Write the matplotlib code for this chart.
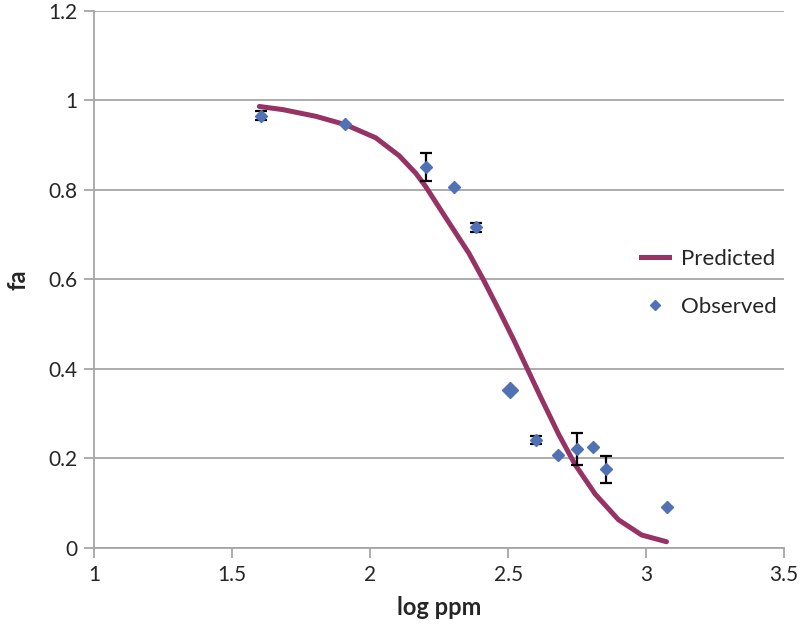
import matplotlib
matplotlib.use("Agg")
import matplotlib.pyplot as plt
from matplotlib.lines import Line2D

# Observed data
obs_x = [1.604, 1.909, 2.203, 2.303, 2.382, 2.508, 2.601, 2.680, 2.749, 2.806, 2.855, 3.077]
obs_y = [0.965, 0.947, 0.851, 0.806, 0.716, 0.353, 0.242, 0.208, 0.221, 0.226, 0.176, 0.092]
obs_err = [0.010, 0.0, 0.032, 0.0, 0.010, 0.0, 0.009, 0.0, 0.036, 0.0, 0.030, 0.0]

# Predicted curve
pred_x = [1.598, 1.683, 1.803, 1.912, 2.020, 2.105, 2.165, 2.200, 2.286, 2.358, 2.412,
          2.466, 2.520, 2.568, 2.617, 2.683, 2.743, 2.816, 2.900, 2.984, 3.074]
pred_y = [0.986, 0.979, 0.964, 0.945, 0.916, 0.876, 0.837, 0.808, 0.726, 0.658, 0.597,
          0.532, 0.465, 0.402, 0.338, 0.254, 0.186, 0.120, 0.063, 0.029, 0.014]

x_ticks = [1, 1.5, 2, 2.5, 3, 3.5]
x_tick_labels = ["1", "1.5", "2", "2.5", "3", "3.5"]
y_ticks = [0, 0.2, 0.4, 0.6, 0.8, 1.0, 1.2]
y_tick_labels = ["0", "0.2", "0.4", "0.6", "0.8", "1", "1.2"]

plt.rcParams['font.family'] = ['Lato', 'DejaVu Sans']

fig = plt.figure(figsize=(8, 6.26), dpi=100)
ax = fig.add_axes([0.118, 0.1246, 0.862, 0.8584])

curve_color = "#963364"
marker_color = "#5072B4"
grid_color = "#A6A6A6"
text_color = "#262626"

ax.plot(pred_x, pred_y, color=curve_color, lw=3.6, solid_capstyle='round',
        solid_joinstyle='round', zorder=3)

# error bars (only those non-zero)
ex = [x for x, e in zip(obs_x, obs_err) if e > 0]
ey = [y for y, e in zip(obs_y, obs_err) if e > 0]
ee = [e for e in obs_err if e > 0]
ax.errorbar(ex, ey, yerr=ee, fmt='none', ecolor='black', elinewidth=1.6, capsize=4,
            capthick=1.6, zorder=4)

sizes = [6.0 if y != 0.353 else 8.5 for y in obs_y]
for x, y, s in zip(obs_x, obs_y, sizes):
    ax.plot([x], [y], marker='D', ms=s, color=marker_color, markeredgecolor=marker_color,
            linestyle='none', zorder=5)

ax.set_xlim(1, 3.5)
ax.set_ylim(0, 1.2)
ax.set_xticks(x_ticks)
ax.set_xticklabels(x_tick_labels)
ax.set_yticks(y_ticks)
ax.set_yticklabels(y_tick_labels)
ax.yaxis.grid(True, color=grid_color, lw=1.3)
ax.set_axisbelow(True)

for s in ['top', 'right']:
    ax.spines[s].set_visible(False)
for s in ['left', 'bottom']:
    ax.spines[s].set_color(grid_color)
    ax.spines[s].set_linewidth(1.3)
ax.tick_params(axis='both', colors=grid_color, length=7, width=1.3, direction='out',
               labelsize=15, labelcolor=text_color)
ax.tick_params(axis='x', pad=5)
ax.tick_params(axis='y', pad=5)

ax.set_xlabel("log ppm", fontsize=17, fontweight='bold', color=text_color, labelpad=8)
ax.set_ylabel("fa", fontsize=17, fontweight='bold', color=text_color, labelpad=14)

handles = [Line2D([], [], color=curve_color, lw=3.6),
           Line2D([], [], color=marker_color, marker='D', ms=5, linestyle='none')]
leg = ax.legend(handles, ["Predicted", "Observed"], loc='center left',
                bbox_to_anchor=(0.763, 0.493), frameon=False, fontsize=16,
                handlelength=1.3, labelspacing=1.25, handletextpad=0.5)
for t in leg.get_texts():
    t.set_color(text_color)

fig.savefig("out.png", dpi=100)
